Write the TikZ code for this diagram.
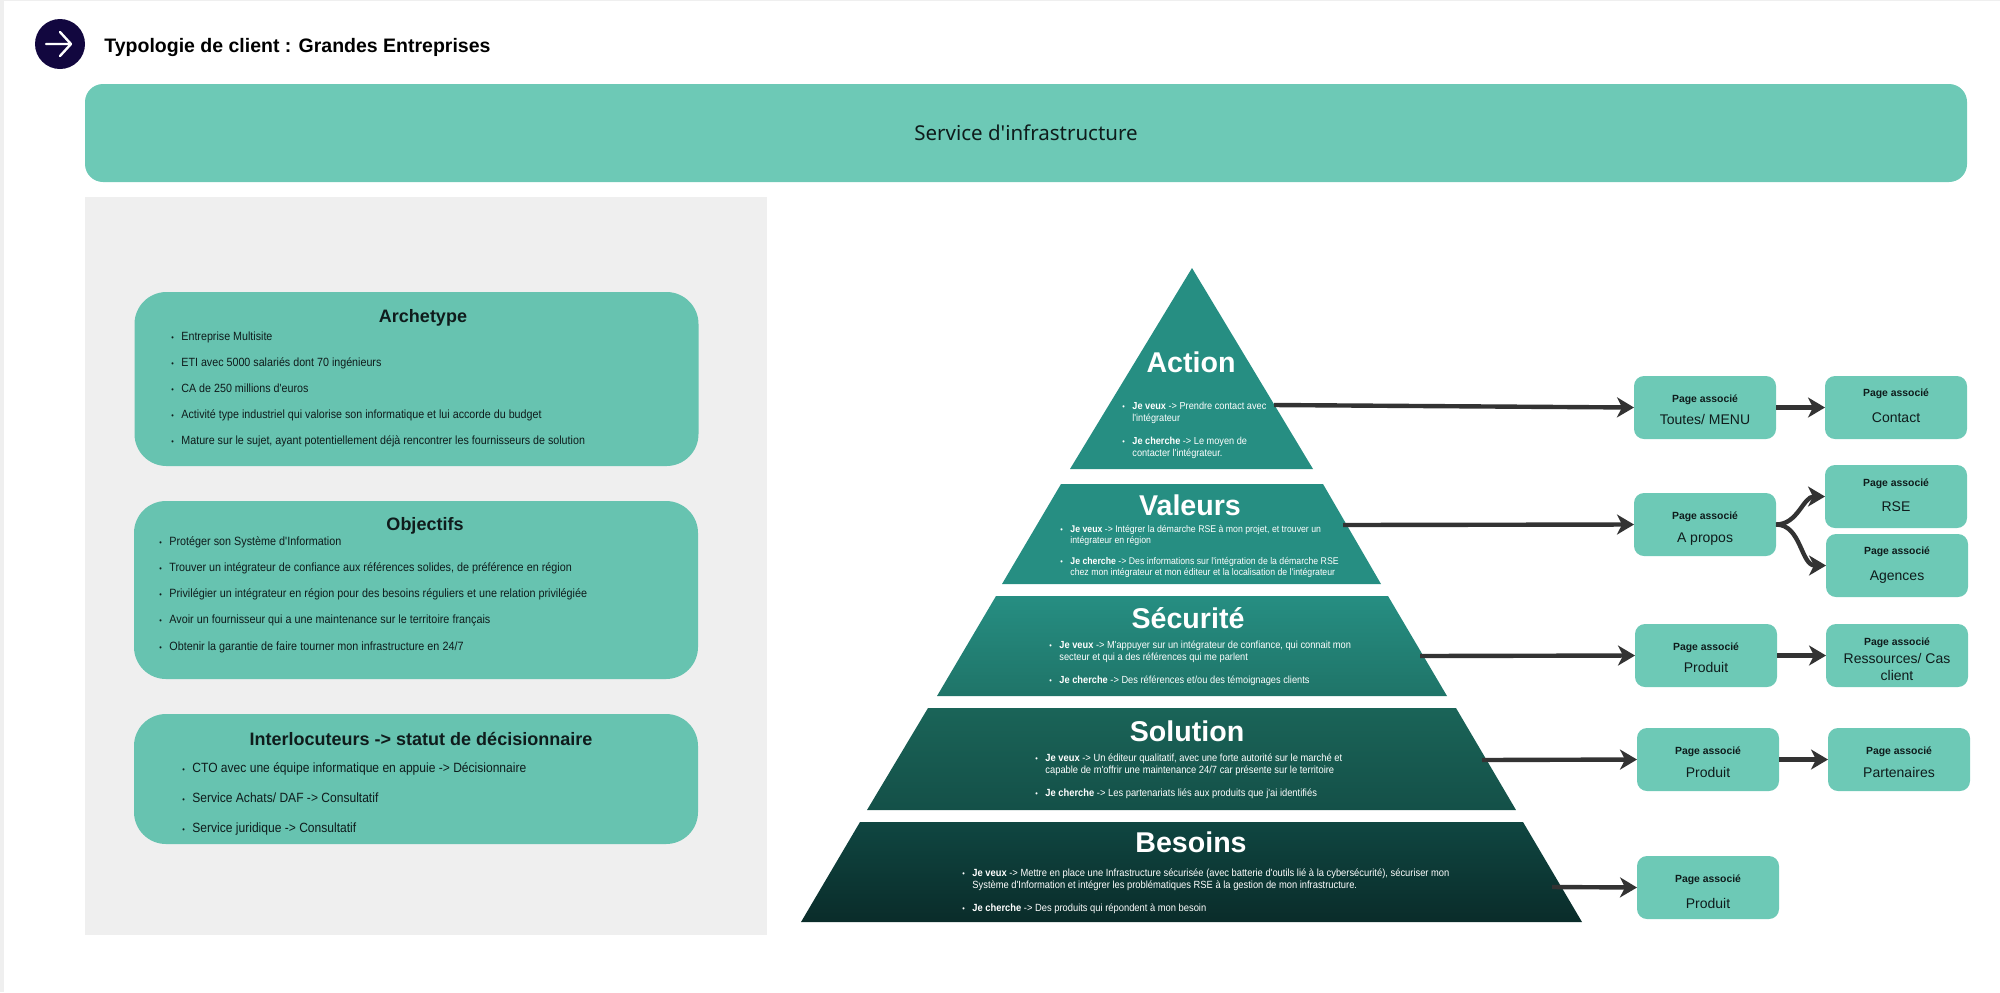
\documentclass[tikz,border=0pt]{standalone}
\usepackage{fontspec}
\setmainfont{Liberation Sans}
\newfontfamily\bannerfont{Noto Sans}
\newfontfamily\listfont[FakeStretch=0.9]{Liberation Sans}
\usetikzlibrary{arrows.meta}
\definecolor{bannerteal}{HTML}{6DC9B6}
\definecolor{panelteal}{HTML}{67C3B0}
\definecolor{panelgray}{HTML}{EFEFEF}
\definecolor{logonavy}{HTML}{12073F}
\definecolor{arrowgray}{HTML}{333333}
\definecolor{inkdark}{HTML}{0F1C1C}
\definecolor{tiertop}{HTML}{268E82}
\definecolor{tiermida}{HTML}{1F7468}
\definecolor{tiermidb}{HTML}{1A6458}
\definecolor{tiermidc}{HTML}{145048}
\definecolor{tierlowa}{HTML}{0F4641}
\definecolor{tierlowb}{HTML}{0A2C2A}
\tikzstyle{pagebox} = [
    rectangle,
    rounded corners=5pt,
    fill=bannerteal,
    minimum width=71pt,
    minimum height=31.5pt,
    inner sep=0pt,
    outer sep=0pt,
    text=inkdark
]
\tikzstyle{listpanel} = [
    rectangle,
    rounded corners=16pt,
    fill=panelteal,
    minimum width=282pt,
    inner sep=0pt
]
\tikzstyle{paneltitle} = [
    text=inkdark,
    font=\fontsize{9}{11}\selectfont\bfseries,
    inner sep=0pt
]
\tikzstyle{paneltext} = [
    anchor=west,
    align=left,
    text=inkdark,
    inner sep=0pt
]
\tikzstyle{tiertitle} = [
    text=white,
    font=\fontsize{14.3}{16}\selectfont\bfseries,
    inner sep=0pt
]
\tikzstyle{tiertext} = [
    anchor=west,
    align=left,
    text=white,
    inner sep=0pt
]
\tikzstyle{arrow} = [
    draw=arrowgray,
    line width=2.2pt,
    ->,
    >={Stealth[length=8.5pt,width=10pt,inset=2.5pt]}
]
\newcommand{\puce}{\makebox[5pt][l]{\fontsize{4}{4}\selectfont •}}
\newcommand{\retrait}{\hspace*{5pt}}
\newcommand{\pagelabel}[3]{\raisebox{\dimexpr#1-2.3pt}[0pt][0pt]{\begin{tabular}[c]{@{}c@{}}\fontsize{5.2}{8.5}\selectfont\bfseries Page associé\\[#2]#3\end{tabular}}}
\begin{document}
\begin{tikzpicture}[x=0.5pt, y=-0.5pt, node distance=95.5pt, font=\fontsize{7}{8.5}\selectfont]
        \useasboundingbox (0,0) rectangle (2000,992);
        \fill[panelgray] (0,0) rectangle (4,992);
        \fill[panelgray] (0,0) rectangle (2000,1);

        % header
        \node (logo) [circle, fill=logonavy, minimum size=25pt, inner sep=0pt] at (60,44) {};
        \draw[white, line width=1.2pt, line cap=round, line join=round] (46,44) -- (71,44) (60,32) -- (71,44) -- (60,56);
        \node (title) [anchor=west, inner sep=0pt, font=\fontsize{9.75}{11}\selectfont\bfseries, text=black] at (104,47.5) {Typologie de client : Grandes Entreprises};
        \node (banner) [rectangle, rounded corners=9pt, fill=bannerteal, minimum width=941pt, minimum height=49pt, inner sep=0pt, font=\bannerfont\fontsize{10.25}{12}\selectfont, text=inkdark] at (1026,133) {Service d'infrastructure};

        % left panel
        \node (panel) [rectangle, fill=panelgray, minimum width=341pt, minimum height=369pt, inner sep=0pt] at (426,565.5) {};
        \node (archetype) [listpanel, minimum height=87pt] at (416.5,379) {};
        \node (archetypetitle) [paneltitle] at (423,317.5) {Archetype};
        \node (archetypelist) [paneltext, font=\listfont\fontsize{5.95}{12.9}\selectfont] at (171,389.5) {\puce Entreprise Multisite\\\puce ETI avec 5000 salariés dont 70 ingénieurs\\\puce CA de 250 millions d'euros\\\puce Activité type industriel qui valorise son informatique et lui accorde du budget\\\puce Mature sur le sujet, ayant potentiellement déjà rencontrer les fournisseurs de solution};
        \node (objectifs) [listpanel, minimum height=89pt] at (416,590) {};
        \node (objectifstitle) [paneltitle] at (425,526) {Objectifs};
        \node (objectifslist) [paneltext, font=\listfont\fontsize{6}{13.1}\selectfont] at (159,594.5) {\puce Protéger son Système d'Information\\\puce Trouver un intégrateur de confiance aux références solides, de préférence en région\\\puce Privilégier un intégrateur en région pour des besoins réguliers et une relation privilégiée\\\puce Avoir un fournisseur qui a une maintenance sur le territoire français\\\puce Obtenir la garantie de faire tourner mon infrastructure en 24/7};
        \node (interlocuteurs) [listpanel, minimum height=65pt] at (416,779) {};
        \node (interlocuteurstitle) [paneltitle] at (421,738.5) {Interlocuteurs -> statut de décisionnaire};
        \node (interlocuteurslist) [paneltext, font=\listfont\fontsize{6.7}{15}\selectfont] at (182,799) {\puce CTO avec une équipe informatique en appuie -> Décisionnaire\\\puce Service Achats/ DAF -> Consultatif\\\puce Service juridique -> Consultatif};

        % pyramid
        \fill[tiertop] (1192,268) -- (1313,469) -- (1070,469) -- cycle;
        \fill[tiertop] (1061,484) -- (1323,484) -- (1381,584) -- (1002,584) -- cycle;
        \shade[top color=tiertop, bottom color=tiermida] (996,596) -- (1388,596) -- (1447,696) -- (937,696) -- cycle;
        \shade[top color=tiermidb, bottom color=tiermidc] (928,708) -- (1456,708) -- (1516,810) -- (867,810) -- cycle;
        \shade[top color=tierlowa, bottom color=tierlowb] (860,822) -- (1523,822) -- (1582,922) -- (801,922) -- cycle;

        \node (action) [tiertitle] at (1191,362) {Action};
        \node (actionlist) [tiertext, font=\listfont\fontsize{5.1}{6}\selectfont] at (1122,430.5) {\puce\textbf{Je veux} -> Prendre contact avec\\\retrait l'intégrateur\\[5.5pt]\puce\textbf{Je cherche} -> Le moyen de\\\retrait contacter l'intégrateur.};
        \node (valeurs) [tiertitle] at (1190,505) {Valeurs};
        \node (valeurslist) [tiertext, font=\listfont\fontsize{4.85}{5.5}\selectfont] at (1060,551.5) {\puce\textbf{Je veux} -> Intégrer la démarche RSE à mon projet, et trouver un\\\retrait intégrateur en région\\[5pt]\puce\textbf{Je cherche} -> Des informations sur l'intégration de la démarche RSE\\\retrait chez mon intégrateur et mon éditeur et la localisation de l'intégrateur};
        \node (securite) [tiertitle] at (1188,618) {Sécurité};
        \node (securitelist) [tiertext, font=\listfont\fontsize{5.15}{6}\selectfont] at (1049,663) {\puce\textbf{Je veux} -> M'appuyer sur un intégrateur de confiance, qui connait mon\\\retrait secteur et qui a des références qui me parlent\\[5.5pt]\puce\textbf{Je cherche} -> Des références et/ou des témoignages clients};
        \node (solution) [tiertitle] at (1187,731) {Solution};
        \node (solutionlist) [tiertext, font=\listfont\fontsize{5.2}{6}\selectfont] at (1035,776.5) {\puce\textbf{Je veux} -> Un éditeur qualitatif, avec une forte autorité sur le marché et\\\retrait capable de m'offrir une maintenance 24/7 car présente sur le territoire\\[5.5pt]\puce\textbf{Je cherche} -> Les partenariats liés aux produits que j'ai identifiés};
        \node (besoins) [tiertitle] at (1191,842) {Besoins};
        \node (besoinslist) [tiertext, font=\listfont\fontsize{5.2}{6}\selectfont] at (962,891) {\puce\textbf{Je veux} -> Mettre en place une Infrastructure sécurisée (avec batterie d'outils lié à la cybersécurité), sécuriser mon\\\retrait Système d'Information et intégrer les problématiques RSE à la gestion de mon infrastructure.\\[5.5pt]\puce\textbf{Je cherche} -> Des produits qui répondent à mon besoin};

        \coordinate (actionout) at (1274,405);
        \coordinate (valeursout) at (1343,525);
        \coordinate (securiteout) at (1420,656);
        \coordinate (solutionout) at (1482,760);
        \coordinate (besoinsout) at (1552,887);

        % associated pages
        \node (toutes) [pagebox] at (1705,407.5) {\pagelabel{-0.5pt}{2.5pt}{Toutes/ MENU}};
        \node (contact) [pagebox, right of=toutes] {\pagelabel{1.5pt}{4.5pt}{Contact}};
        \node (apropos) [pagebox] at (1705,524.5) {\pagelabel{-0.75pt}{3pt}{A propos}};
        \node (rse) [pagebox] at (1896,496.5) {\pagelabel{1.25pt}{4pt}{RSE}};
        \node (agences) [pagebox] at (1897,565.5) {\pagelabel{1.5pt}{4.5pt}{Agences}};
        \node (produit) [pagebox] at (1706,655.5) {\pagelabel{-0.5pt}{2.5pt}{Produit}};
        \node (ressources) [pagebox, right of=produit] {\pagelabel{-1.5pt}{0.5pt}{Ressources/ Cas\\client}};
        \node (produitb) [pagebox] at (1708,759.5) {\pagelabel{-0.75pt}{3pt}{Produit}};
        \node (partenaires) [pagebox, right of=produitb] {\pagelabel{-0.75pt}{3pt}{Partenaires}};
        \node (produitc) [pagebox] at (1708,887.5) {\pagelabel{-1.5pt}{4.5pt}{Produit}};

        \draw[arrow] (actionout) -- (toutes.west);
        \draw[arrow] (valeursout) -- (apropos.west);
        \draw[arrow] (securiteout) -- (produit.west);
        \draw[arrow] (solutionout) -- (produitb.west);
        \draw[arrow] (besoinsout) -- (produitc.west);
        \draw[arrow] (toutes) -- (contact);
        \draw[arrow] (apropos.east) to[out=0, in=180] (rse.west);
        \draw[arrow] (apropos.east) to[out=0, in=180] (agences.west);
        \draw[arrow] (produit) -- (ressources);
        \draw[arrow] (produitb) -- (partenaires);
    \end{tikzpicture}
\end{document}
